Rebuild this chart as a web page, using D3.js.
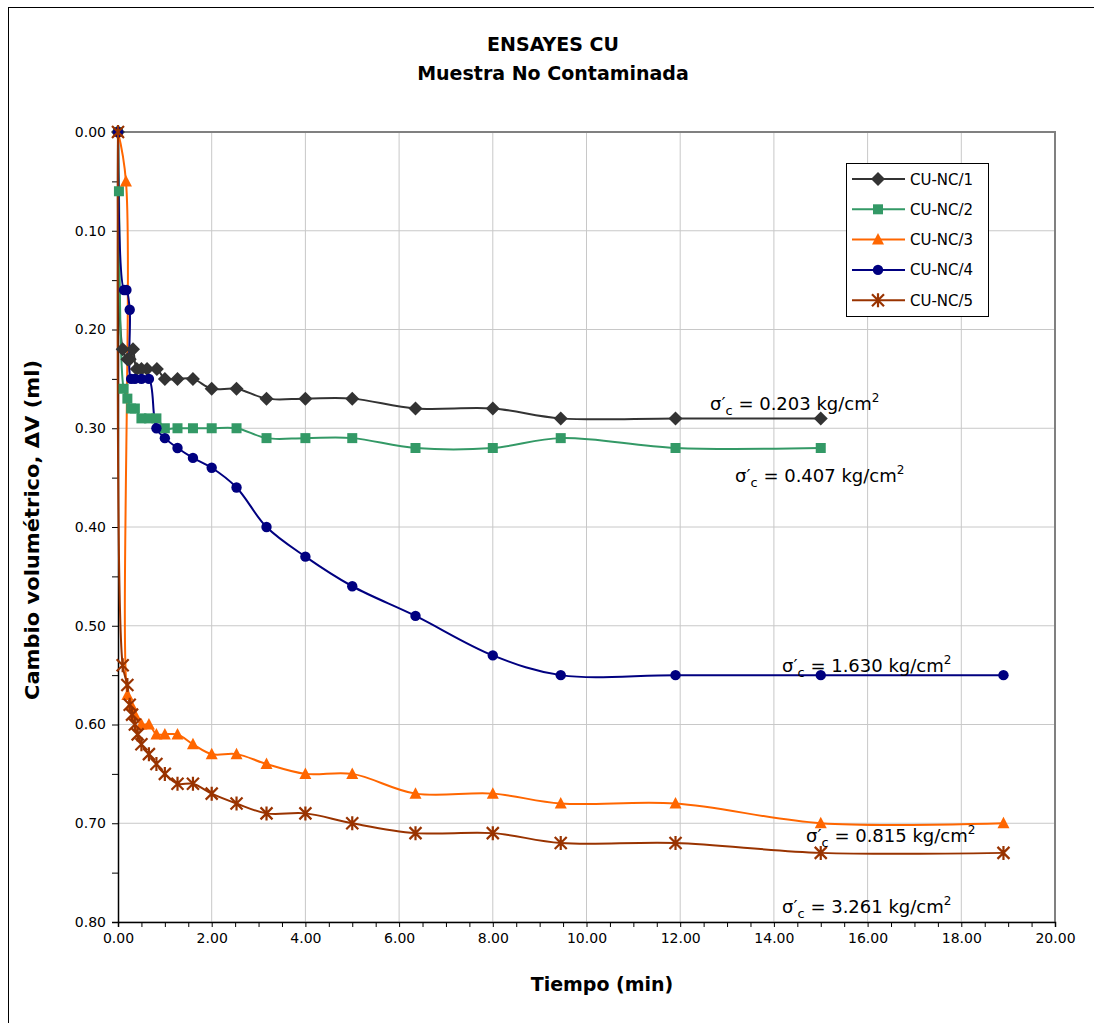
<!DOCTYPE html>
<html><head><meta charset="utf-8">
<script src="https://cdn.jsdelivr.net/npm/d3@7"></script>
<style>body{margin:0;background:#fff;} svg{display:block;font-family:Tahoma,Verdana,"DejaVu Sans",sans-serif;}</style>
</head><body>
<svg id="chart" width="1094" height="1023"></svg>
<script>
const seriesNames = ["CU-NC/1","CU-NC/2","CU-NC/3","CU-NC/4","CU-NC/5"];
const seriesColors = ["#333333","#339966","#FF6600","#000080","#993300"];
const seriesMarkers = ["diamond","square","triangle","circle","asterisk"];

const t1 = [0, 0.1, 0.2, 0.25, 0.32, 0.4, 0.5, 0.62, 0.83, 1.0, 1.27, 1.6, 2.0, 2.53, 3.17, 4.0, 5.0, 6.35, 8.0, 9.45, 11.9, 15.0];
const v1 = [0, 0.22, 0.23, 0.23, 0.22, 0.24, 0.24, 0.24, 0.24, 0.25, 0.25, 0.25, 0.26, 0.26, 0.27, 0.27, 0.27, 0.28, 0.28, 0.29, 0.29, 0.29];

const t2 = [0, 0.02, 0.12, 0.2, 0.28, 0.36, 0.5, 0.66, 0.82, 1.0, 1.27, 1.6, 2.0, 2.53, 3.17, 4.0, 5.0, 6.35, 8.0, 9.45, 11.9, 15.0];
const v2 = [0, 0.06, 0.26, 0.27, 0.28, 0.28, 0.29, 0.29, 0.29, 0.30, 0.30, 0.30, 0.30, 0.30, 0.31, 0.31, 0.31, 0.32, 0.32, 0.31, 0.32, 0.32];

const t3 = [0, 0.17, 0.2, 0.28, 0.36, 0.5, 0.66, 0.82, 1.0, 1.27, 1.6, 2.0, 2.53, 3.17, 4.0, 5.0, 6.35, 8.0, 9.45, 11.9, 15.0, 18.9];
const v3 = [0, 0.05, 0.57, 0.58, 0.59, 0.60, 0.60, 0.61, 0.61, 0.61, 0.62, 0.63, 0.63, 0.64, 0.65, 0.65, 0.67, 0.67, 0.68, 0.68, 0.70, 0.70];

const t4 = [0, 0.13, 0.18, 0.25, 0.28, 0.36, 0.5, 0.66, 0.82, 1.0, 1.27, 1.6, 2.0, 2.53, 3.17, 4.0, 5.0, 6.35, 8.0, 9.45, 11.9, 15.0, 18.9];
const v4 = [0, 0.16, 0.16, 0.18, 0.25, 0.25, 0.25, 0.25, 0.30, 0.31, 0.32, 0.33, 0.34, 0.36, 0.40, 0.43, 0.46, 0.49, 0.53, 0.55, 0.55, 0.55, 0.55];

const t5 = [0, 0.1, 0.2, 0.25, 0.3, 0.36, 0.42, 0.5, 0.66, 0.82, 1.0, 1.27, 1.6, 2.0, 2.53, 3.17, 4.0, 5.0, 6.35, 8.0, 9.45, 11.9, 15.0, 18.9];
const v5 = [0, 0.54, 0.56, 0.58, 0.59, 0.60, 0.61, 0.62, 0.63, 0.64, 0.65, 0.66, 0.66, 0.67, 0.68, 0.69, 0.69, 0.70, 0.71, 0.71, 0.72, 0.72, 0.73, 0.73];

const xTicks = [0,2,4,6,8,10,12,14,16,18,20];
const yTicks = [0,0.1,0.2,0.3,0.4,0.5,0.6,0.7,0.8];
const annotations = ["0.203","0.407","1.630","0.815","3.261"];
const annotPos = [[710,410],[735,482],[782,672],[806,842],[782,913]];

const svg = d3.select("#chart");
const L = 118, R = 1055, T = 132, B = 922;
const x = d3.scaleLinear().domain([0,20]).range([L,R]);
const y = d3.scaleLinear().domain([0,0.8]).range([T,B]);

// outer frame
svg.append("rect").attr("x",8.5).attr("y",7.5).attr("width",1100).attr("height",1030)
  .attr("fill","none").attr("stroke","#000").attr("stroke-width",1);

// title
svg.append("text").attr("x",553).attr("y",51).attr("text-anchor","middle")
  .attr("font-weight","bold").attr("font-size",19).text("ENSAYES CU");
svg.append("text").attr("x",553).attr("y",80).attr("text-anchor","middle")
  .attr("font-weight","bold").attr("font-size",19).text("Muestra No Contaminada");

// grid
const g = svg.append("g");
g.selectAll(".vg").data(xTicks.slice(1)).join("line")
  .attr("x1",d=>x(d)).attr("x2",d=>x(d)).attr("y1",T).attr("y2",B)
  .attr("stroke","#c8c8c8").attr("stroke-width",1);
g.selectAll(".hg").data(yTicks.slice(1)).join("line")
  .attr("y1",d=>y(d)).attr("y2",d=>y(d)).attr("x1",L).attr("x2",R)
  .attr("stroke","#c8c8c8").attr("stroke-width",1);
g.append("path").attr("d",`M${L},${T}H${R}V${B}`).attr("fill","none")
  .attr("stroke","#808080").attr("stroke-width",2);

// axes
const yMinor = d3.range(0,0.801,0.05);
const yAxis = d3.axisLeft(y).tickValues(yMinor).tickSize(6)
  .tickFormat(d => Math.abs(Math.round(d*100)%10)===0 ? d3.format(".2f")(d) : "");
const ya = svg.append("g").attr("transform",`translate(${L},0)`).call(yAxis);
ya.attr("font-size",14).attr("font-family","Tahoma,Verdana,'DejaVu Sans',sans-serif");
ya.select(".domain").attr("stroke","#000").attr("stroke-width",1.5);
ya.selectAll("text").attr("fill","#000").attr("dx",-3);

const xMinor = d3.range(0,20.01,0.5);
const xAxis = d3.axisBottom(x).tickValues(xMinor).tickSize(5)
  .tickFormat(d => (Math.round(d*2)%4===0) ? d3.format(".2f")(d) : "");
const xa = svg.append("g").attr("transform",`translate(0,${B})`).call(xAxis);
xa.attr("font-size",14).attr("font-family","Tahoma,Verdana,'DejaVu Sans',sans-serif");
xa.select(".domain").attr("stroke","#000").attr("stroke-width",1.5);
xa.selectAll("text").attr("fill","#000").attr("dy","0.9em");

// axis titles
svg.append("text").attr("x",602).attr("y",991).attr("text-anchor","middle")
  .attr("font-weight","bold").attr("font-size",19).text("Tiempo (min)");
svg.append("text").attr("transform","translate(39,530) rotate(-90)").attr("text-anchor","middle")
  .attr("font-weight","bold").attr("font-size",20).attr("textLength",340).attr("lengthAdjust","spacingAndGlyphs")
  .text("Cambio volumétrico, ΔV (ml)");

// markers
function drawMarker(sel, type, color, cx, cy) {
  const s = sel.append("g").attr("transform",`translate(${cx},${cy})`);
  if (type==="diamond") s.append("path").attr("d","M0,-7L7,0L0,7L-7,0Z").attr("fill",color);
  else if (type==="square") s.append("rect").attr("x",-5).attr("y",-5).attr("width",10).attr("height",10).attr("fill",color);
  else if (type==="triangle") s.append("path").attr("d","M0,-6.5L6,5L-6,5Z").attr("fill",color);
  else if (type==="circle") s.append("circle").attr("r",5.2).attr("fill",color);
  else if (type==="asterisk") s.append("path").attr("d","M-6,-6L6,6M-6,6L6,-6M0,-7V7").attr("stroke",color).attr("stroke-width",2.2);
}

const allData = [[t1,v1],[t2,v2],[t3,v3],[t4,v4],[t5,v5]];
const line = d3.line().x(d=>x(d[0])).y(d=>y(d[1])).curve(d3.curveCatmullRom.alpha(0.5));
const plot = svg.append("g");
allData.forEach(([ts,vs],i) => {
  const pts = ts.map((t,j)=>[t,vs[j]]);
  plot.append("path").datum(pts).attr("d",line).attr("fill","none")
    .attr("stroke",seriesColors[i]).attr("stroke-width",2);
});
allData.forEach(([ts,vs],i) => {
  ts.forEach((t,j)=>drawMarker(plot, seriesMarkers[i], seriesColors[i], x(t), y(vs[j])));
});

// annotations
annotations.forEach((a,i) => {
  const t = svg.append("text").attr("x",annotPos[i][0]).attr("y",annotPos[i][1]).attr("font-size",18).attr("fill","#000");
  t.append("tspan").text("σ′");
  t.append("tspan").attr("font-size",13).attr("dy",5).text("c");
  t.append("tspan").attr("dy",-5).text(" = " + a + " kg/cm");
  t.append("tspan").attr("font-size",12).attr("dy",-8).text("2");
});

// legend
const lg = svg.append("g");
lg.append("rect").attr("x",846.5).attr("y",163.5).attr("width",142).attr("height",153)
  .attr("fill","#fff").attr("stroke","#000").attr("stroke-width",1);
seriesNames.forEach((n,i)=>{
  const yy = 179 + i*30.3;
  lg.append("line").attr("x1",852).attr("x2",905).attr("y1",yy).attr("y2",yy)
    .attr("stroke",seriesColors[i]).attr("stroke-width",2);
  drawMarker(lg, seriesMarkers[i], seriesColors[i], 878, yy);
  lg.append("text").attr("x",910).attr("y",yy+5.5).attr("font-size",15).text(n);
});
</script>
</body></html>
